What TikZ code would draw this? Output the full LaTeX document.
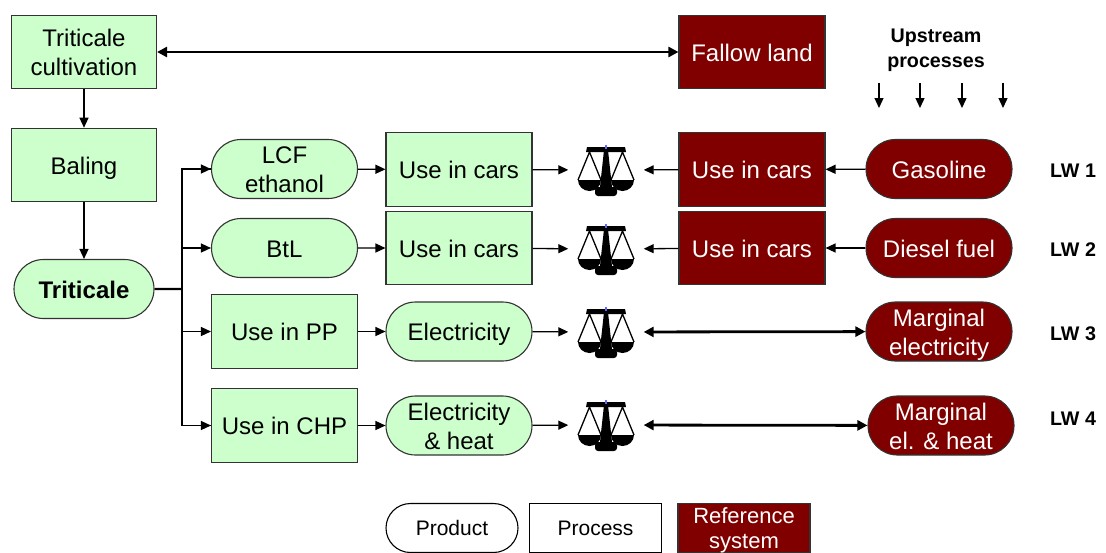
\documentclass[tikz,border=0pt]{standalone}
\usepackage{fontspec}
\setmainfont{Liberation Sans}
\usetikzlibrary{arrows.meta,shapes.misc}
\definecolor{procgreen}{HTML}{CCFFCC}
\definecolor{refred}{HTML}{800000}
\newcommand{\linestrut}{\rule[-.25em]{0pt}{1.25em}}
\newcommand{\topstrut}{\rule{0pt}{1em}}
\newcommand{\narrow}[1]{\makebox[60pt]{#1}}
\tikzset{
    diag/.style={draw=black!80, line width=1.1pt, minimum width=146pt, inner sep=0pt, align=center, font=\fontsize{24}{29}\selectfont,
        execute at begin node=\linestrut, execute at end node=\linestrut},
    proc/.style={diag, rectangle, fill=procgreen, minimum height=73.5pt},
    prod/.style={diag, rounded rectangle, fill=procgreen, minimum height=59pt},
    refproc/.style={proc, fill=refred, text=white},
    refprod/.style={prod, fill=refred, text=white},
    flow/.style={line width=1.3pt, -{Triangle[length=10pt,width=9pt]}},
    both/.style={line width=2.8pt, {Triangle[length=10pt,width=10pt]}-{Triangle[length=10pt,width=10pt]}},
    lbl/.style={inner sep=0pt, align=center, font=\fontsize{19.7}{25}\selectfont\bfseries,
        execute at begin node=\linestrut, execute at end node=\linestrut},
    legend/.style={font=\fontsize{21}{25}\selectfont, minimum width=132pt, minimum height=49pt},
    balnode/.style={minimum width=75pt, minimum height=50pt, inner sep=0pt},
    balance/.pic={
        \fill (-19,-23) -- (19,-23) -- (20,-18) -- (-20,-18) -- cycle;
        \fill (-2,-20) -- (2,-20) -- (6,17) -- (-6,17) -- cycle;
        \fill[rounded corners=3pt] (-11,26) -- (-11,17) -- (11,17) -- (11,26) -- cycle;
        \fill[blue!60] (-1,-25) rectangle (1,-21);
        \foreach \s in {-16.5,16.5} {
            \draw[line width=1.3pt] (\s-11.5,10) -- (\s,-18) -- (\s+11.5,10);
            \fill (\s-11.5,10) arc (180:0:11.5 and 11) -- cycle;
        }
    }
}
\begin{document}
\begin{tikzpicture}[x=1pt, y=-1pt]
    \useasboundingbox (0,0) rectangle (1106,552);

    \node[proc, minimum width=145pt] (cult) at (84,52) {\topstrut Triticale\\cultivation};
    \node[proc, minimum width=145pt] (bale) at (84,165) {Baling};
    \node[prod, minimum width=140pt, font=\fontsize{24}{29}\selectfont\bfseries] (tri) at (84,289) {Triticale};
    \coordinate (trunk) at (182,289);

    \node[prod] (lcf) at (284.5,169) {\topstrut LCF\\\narrow{ethanol}};
    \node[prod] (btl) at (284.5,248) {BtL};
    \node[proc] (pp) at (284.5,331.5) {Use in PP};
    \node[proc] (chp) at (284.5,425.5) {Use in CHP};

    \node[proc] (car1) at (459,169.5) {Use in cars};
    \node[proc] (car2) at (459,248) {Use in cars};
    \node[prod] (elec) at (459,331.5) {Electricity};
    \node[prod] (elheat) at (459,425.5) {\topstrut\narrow{Electricity}\\\& heat};

    \foreach \i/\y in {1/170,2/249,3/332,4/425} {
        \node[balnode] (bal\i) at (606,\y) {};
        \pic at (bal\i) {balance};
    }

    \node[refproc] (fallow) at (752,52) {Fallow land};
    \node[refproc] (refcar1) at (752,169.5) {Use in cars};
    \node[refproc] (refcar2) at (752,248) {Use in cars};

    \node[refprod] (gas) at (939,169) {Gasoline};
    \node[refprod] (diesel) at (939,248) {Diesel fuel};
    \node[refprod] (margel) at (939,331.5) {\topstrut\narrow{Marginal}\\\narrow{electricity}};
    \node[refprod] (margheat) at (941,425.5) {\topstrut\narrow{Marginal}\\\narrow{el. \& heat}};

    \node[lbl] (up) at (936,47.5) {\topstrut Upstream\\processes};
    \foreach \x [count=\i] in {879,920,962,1003} {
        \coordinate (upa\i) at (\x,83);
        \coordinate (upb\i) at (\x,108);
        \draw[flow] (upa\i) -- (upb\i);
    }
    \foreach \i/\y in {1/170,2/249,3/333,4/418} \node[lbl] (lw\i) at (1073,\y) {LW \i};

    \node[diag, legend, rounded rectangle, draw=black] (lprod) at (452,528) {Product};
    \node[diag, legend, rectangle, draw=black] (lproc) at (595.5,528) {Process};
    \node[diag, legend, rectangle, fill=refred, text=white, inner ysep=-2pt, font=\fontsize{22}{25}\selectfont] (lref) at (744,528) {\topstrut Reference\\system};

    \draw[both] (cult) -- (fallow);
    \draw[flow] (cult) -- (bale);
    \draw[flow] (bale) -- (tri);
    \draw[line width=2.2pt] (tri) -- (trunk);
    \draw[line width=1.4pt] (trunk) |- (lcf);
    \draw[line width=1.4pt] (trunk) |- (chp);
    \draw[flow] (trunk) |- (lcf);
    \draw[flow] (trunk) |- (btl);
    \draw[flow] (trunk) |- (pp);
    \draw[flow] (trunk) |- (chp);

    \draw[flow] (lcf) -- (car1);
    \draw[flow] (btl) -- (car2);
    \draw[flow] (pp) -- (elec);
    \draw[flow] (chp) -- (elheat);

    \draw[flow] (car1) -- (bal1);
    \draw[flow] (car2) -- (bal2);
    \draw[flow] (elec) -- (bal3);
    \draw[flow] (elheat) -- (bal4);

    \draw[flow] (refcar1) -- (bal1);
    \draw[flow] (refcar2) -- (bal2);
    \draw[flow] (gas) -- (refcar1);
    \draw[flow] (diesel) -- (refcar2);
    \draw[both] (bal3) -- (margel);
    \draw[both] (bal4) -- (margheat);
\end{tikzpicture}
\end{document}
